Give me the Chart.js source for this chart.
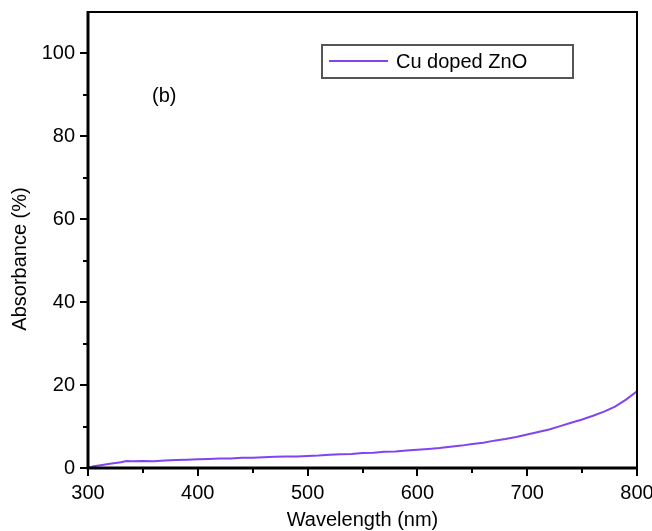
<!DOCTYPE html>
<html>
<head>
<meta charset="utf-8">
<script src="https://cdn.jsdelivr.net/npm/chart.js@4"></script>
<style>
  html, body { margin: 0; padding: 0; background: #fff; }
  #wrap { width: 652px; height: 531px; position: relative; }
</style>
</head>
<body>
<div id="wrap"><canvas id="absChart"></canvas></div>
<script>
// values
const wavelengths = [300, 305, 310, 320, 330, 335, 340, 350, 360, 370, 380, 390, 400, 410, 420, 430, 440, 450,
    460, 470, 480, 490, 500, 510, 520, 530, 540, 550, 560, 570, 580, 590, 600, 610, 620, 630, 640, 650,
    660, 670, 680, 690, 700, 710, 720, 730, 740, 750, 760, 770, 780, 790, 800];
const absorbance = [0.0, 0.4, 0.6, 1.0, 1.4, 1.7, 1.6, 1.7, 1.6, 1.8, 1.9, 2.0, 2.1, 2.2, 2.3, 2.3, 2.5, 2.5,
    2.6, 2.7, 2.8, 2.8, 2.9, 3.0, 3.2, 3.3, 3.4, 3.6, 3.7, 3.9, 4.0, 4.2, 4.4, 4.6, 4.8, 5.1, 5.4, 5.8,
    6.1, 6.6, 7.0, 7.5, 8.1, 8.7, 9.3, 10.1, 10.9, 11.7, 12.6, 13.6, 14.8, 16.5, 18.5];
const xMajorTicks = [300, 400, 500, 600, 700, 800];
const yMajorTicks = [0, 20, 40, 60, 80, 100];
const seriesLabel = 'Cu doped ZnO';
const panelLabel = '(b)';
const yTitle = 'Absorbance (%)';

const lineColor = '#8044f2';
const FONT = 'Liberation Sans, Arial, Helvetica, sans-serif';

const framePlugin = {
    id: 'frame',
    afterDatasetsDraw(chart) {
        const { ctx, chartArea: a, scales } = chart;
        ctx.save();
        ctx.strokeStyle = '#000';
        // top + right (thinner)
        ctx.lineWidth = 2;
        ctx.beginPath();
        ctx.moveTo(a.left, a.top);
        ctx.lineTo(a.right, a.top);
        ctx.lineTo(a.right, a.bottom);
        ctx.stroke();
        // left + bottom
        ctx.lineWidth = 3;
        ctx.beginPath();
        ctx.moveTo(a.left, a.top - 1);
        ctx.lineTo(a.left, a.bottom);
        ctx.lineTo(a.right + 1, a.bottom);
        ctx.stroke();
        // ticks
        ctx.lineWidth = 2;
        ctx.beginPath();
        for (let v = 300; v <= 800; v += 50) {
            const px = Math.round(scales.x.getPixelForValue(v));
            const len = (v % 100 === 0) ? 8 : 5;
            ctx.moveTo(px, a.bottom);
            ctx.lineTo(px, a.bottom + len);
        }
        for (let v = 0; v <= 100; v += 10) {
            const py = Math.round(scales.y.getPixelForValue(v));
            const len = (v % 20 === 0) ? 8 : 5;
            ctx.moveTo(a.left, py);
            ctx.lineTo(a.left - len, py);
        }
        ctx.stroke();

        // legend box
        const bx = a.left + 234, by = a.top + 33, bw = 251, bh = 33;
        ctx.strokeStyle = '#555';
        ctx.lineWidth = 2;
        ctx.strokeRect(bx, by, bw, bh);
        ctx.strokeStyle = lineColor;
        ctx.beginPath();
        ctx.moveTo(bx + 7, by + 16);
        ctx.lineTo(bx + 66, by + 16);
        ctx.stroke();
        ctx.fillStyle = '#000';
        ctx.font = '20px ' + FONT;
        ctx.textBaseline = 'middle';
        ctx.fillText(seriesLabel, bx + 74, by + 17);

        // panel label
        ctx.fillText(panelLabel, a.left + 64, a.top + 84);

        // y axis title, sits a bit below the plot centre as in the figure
        ctx.translate(a.left - 68, (a.top + a.bottom) / 2 + 19);
        ctx.rotate(-Math.PI / 2);
        ctx.textAlign = 'center';
        ctx.fillText(yTitle, 0, 0);
        ctx.restore();
    }
};

const ctx = document.getElementById('absChart').getContext('2d');
new Chart(ctx, {
    type: 'line',
    data: {
        datasets: [{
            label: seriesLabel,
            data: wavelengths.map((w, i) => ({ x: w, y: absorbance[i] })),
            borderColor: lineColor,
            borderWidth: 2,
            pointRadius: 0,
            tension: 0
        }]
    },
    options: {
        responsive: true,
        maintainAspectRatio: false,
        animation: false,
        layout: { padding: { left: 0, right: 15, top: 12, bottom: 0 } },
        plugins: {
            legend: { display: false },
            tooltip: { enabled: false }
        },
        scales: {
            x: {
                type: 'linear',
                min: 300,
                max: 800,
                afterFit: s => { s.height = 63; s.paddingLeft = 0; s.paddingRight = 0; },
                afterBuildTicks: s => { s.ticks = xMajorTicks.map(v => ({ value: v })); },
                grid: { display: false },
                border: { display: false },
                ticks: { color: '#000', font: { size: 20, family: FONT }, padding: 5, maxRotation: 0 },
                title: { display: true, text: 'Wavelength (nm)', color: '#000', font: { size: 20, family: FONT }, padding: { top: 0, bottom: -1 } }
            },
            y: {
                min: 0,
                max: 110,
                afterFit: s => { s.width = 88; s.paddingTop = 0; s.paddingBottom = 0; },
                afterBuildTicks: s => { s.ticks = yMajorTicks.map(v => ({ value: v })); },
                grid: { display: false },
                border: { display: false },
                ticks: { color: '#000', font: { size: 20, family: FONT }, padding: 5 }
            }
        }
    },
    plugins: [framePlugin]
});
</script>
</body>
</html>
